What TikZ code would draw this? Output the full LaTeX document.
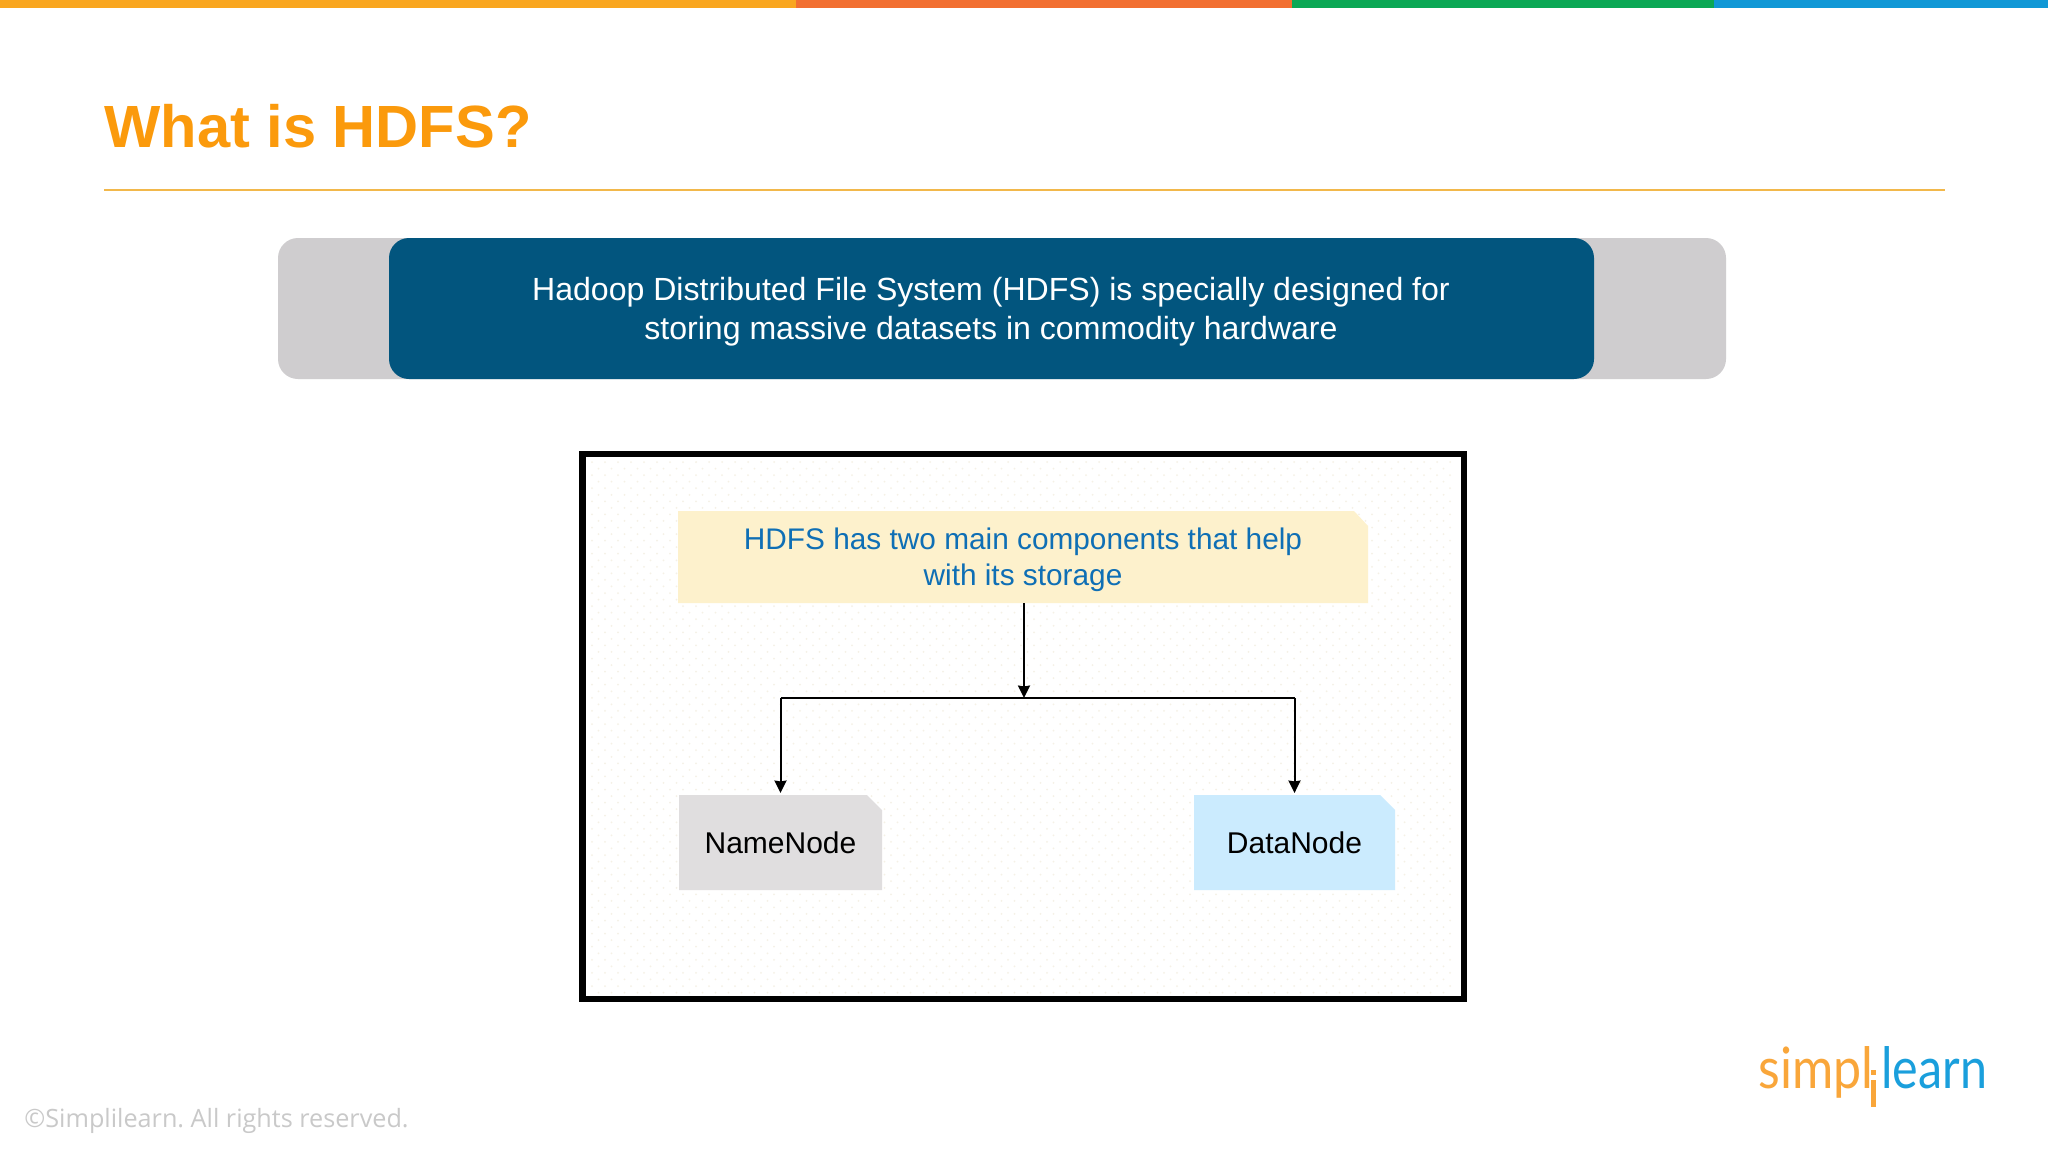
\documentclass[tikz,border=0pt]{standalone}
\usepackage{fontspec}
\setmainfont{Liberation Sans}
\newfontfamily\logofont{Lato}
\newfontfamily\copyfont{Open Sans}
\usetikzlibrary{arrows.meta}
\definecolor{barorange}{HTML}{F9A61F}
\definecolor{barred}{HTML}{F26F31}
\definecolor{bargreen}{HTML}{0BA855}
\definecolor{barblue}{HTML}{1198D6}
\definecolor{titleorange}{HTML}{FB9A0C}
\definecolor{rulegold}{HTML}{F2B84B}
\definecolor{slategrey}{HTML}{CFCDCF}
\definecolor{deepblue}{HTML}{02557E}
\definecolor{noteyellow}{HTML}{FDF1CC}
\definecolor{notegrey}{HTML}{E0DEDF}
\definecolor{noteblue}{HTML}{CBEBFE}
\definecolor{textblue}{HTML}{0F6FB5}
\definecolor{dotcol}{HTML}{F5F1E6}
\definecolor{logoorange}{HTML}{F9A63A}
\definecolor{logoblue}{HTML}{1A9FDC}
\definecolor{copygrey}{HTML}{C9C9C9}
\tikzset{
  x=0.5pt,y=-0.5pt,
  conn/.style={line width=1pt,black,-{Stealth[length=6.2pt,width=6pt,inset=0.4pt]}},
  hline/.style={line width=0.7pt,black},
  notetext/.style={inner sep=0pt,outer sep=0pt,align=center,font=\fontsize{15}{18}\selectfont},
  leaf/.style={notetext,minimum width=101.5pt,minimum height=47.5pt,text=black},
}
\begin{document}
\frenchspacing
\begin{tikzpicture}
\useasboundingbox (0,0) rectangle (2048,1152);
\fill[white] (0,0) rectangle (2048,1152);
% top bar
\fill[barorange] (0,0) rectangle (796,8);
\fill[barred] (796,0) rectangle (1292,8);
\fill[bargreen] (1292,0) rectangle (1714,8);
\fill[barblue] (1714,0) rectangle (2048,8);
% title
\node[anchor=base west,inner sep=0pt,text=titleorange,font=\fontsize{29.8}{34}\selectfont\bfseries] (title) at (104,147) {What is HDFS?};
\draw[rulegold,line width=1pt] (104,190) -- (1945,190);
% banner
\fill[slategrey,rounded corners=10pt] (278,238) rectangle (1726,379);
\fill[deepblue,rounded corners=10pt] (389,238) rectangle (1594,379);
\node[text=white,align=center,inner sep=0pt,font=\fontsize{16.03}{19.3}\selectfont] (banner) at (991,312) {Hadoop Distributed File System (HDFS) is specially designed for\\storing massive datasets in commodity hardware};
% frame
\foreach \r in {0,...,81}{
  \pgfmathsetmacro\yy{462+6.55*\r}
  \pgfmathsetmacro\ph{mod(\r,2)*3.25}
  \draw[dotcol,line width=1pt,line cap=round,dash pattern=on 0pt off 6.5pt,dash phase=\ph pt] (592,\yy) -- (1454,\yy);
}
\draw[black,line width=3.2pt] (582.5,454) rectangle (1464,999);
% notes
\fill[noteyellow] (678,511) -- (1354,511) -- (1368,526) -- (1368,603) -- (678,603) -- cycle;
\node[notetext,text=textblue,font=\fontsize{14.9}{18}\selectfont,minimum width=345pt,minimum height=43pt] (intro) at (1023,560) {HDFS has two main components that help\\with its storage};
\fill[notegrey] (679,795) -- (867,795) -- (882,810) -- (882,890) -- (679,890) -- cycle;
\node[leaf] (namenode) at (780.5,842.5) {NameNode};
\fill[noteblue] (1194,795) -- (1380,795) -- (1395,810) -- (1395,890) -- (1194,890) -- cycle;
\node[leaf] (datanode) at (1294.5,842.5) {DataNode};
% connectors
\coordinate (junction) at (1024,698);
\coordinate (leftcorner) at (namenode.north |- junction);
\coordinate (rightcorner) at (datanode.north |- junction);
\draw[conn] (intro.south -| junction) -- (junction);
\draw[hline] (leftcorner) -- (rightcorner);
\draw[conn,shorten >=1pt] (leftcorner) -- (namenode.north);
\draw[conn,shorten >=1pt] (rightcorner) -- (datanode.north);
% logo
\node[anchor=base west,inner sep=0pt,text=logoorange,font=\logofont\fontsize{28.5}{30}\selectfont] (logoa) at (1758,1088) {\scalebox{0.88}[1]{simpl}};
\node[anchor=base west,inner sep=0pt,text=logoblue,font=\logofont\fontsize{28.5}{30}\selectfont] (logob) at (1881,1088) {\scalebox{0.85}[1]{learn}};
\fill[logoorange] (1871,1070) rectangle (1875.5,1075);
\fill[logoorange] (1871,1080) rectangle (1875.5,1107);
% copyright
\node[anchor=base west,inner sep=0pt,text=copygrey,font=\copyfont\fontsize{12.6}{15}\selectfont] (copy) at (24,1127) {©Simplilearn. All rights reserved.};
\end{tikzpicture}
\end{document}
